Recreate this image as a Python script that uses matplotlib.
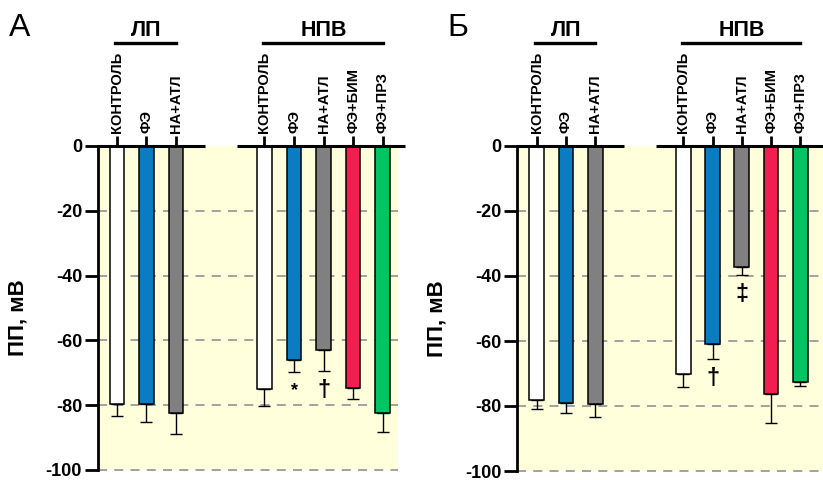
import matplotlib
matplotlib.use("Agg")
from matplotlib import pyplot as plt
from matplotlib.patches import Rectangle

plt.rcParams['font.family'] = ['Liberation Sans', 'DejaVu Sans']

# Data
groups = ["ЛП", "НПВ"]
labels_lp = ["КОНТРОЛЬ", "ФЭ", "НА+АТЛ"]
labels_npv = ["КОНТРОЛЬ", "ФЭ", "НА+АТЛ", "ФЭ+БИМ", "ФЭ+ПРЗ"]
pos_lp = [0, 1, 2]
pos_npv = [5, 6, 7, 8, 9]
colors_lp = ["#FFFFFF", "#0A7DC2", "#808080"]
colors_npv = ["#FFFFFF", "#0A7DC2", "#808080", "#F21E50", "#00C462"]

# panel A
a_lp = [-79.5, -79.5, -82.3]
a_lp_err = [3.7, 5.8, 6.7]
a_npv = [-75.1, -66.2, -62.9, -74.8, -82.5]
a_npv_err = [5.0, 3.4, 6.5, 3.4, 5.9]
a_marks = ["", "*", "†", "", ""]

# panel Б
b_lp = [-78.2, -79.2, -79.4]
b_lp_err = [2.8, 2.8, 3.9]
b_npv = [-70.3, -61.0, -37.1, -76.4, -72.5]
b_npv_err = [4.0, 4.6, 2.6, 8.9, 1.3]
b_marks = ["", "†", "‡", "", ""]

yticks = [0, -20, -40, -60, -80, -100]

YELLOW = "#FFFFDC"


def panel(rect, xlim, yellow_right, lp, lp_err, npv, npv_err, marks, letter, letter_x):
    ax = fig.add_axes(rect)
    ax.set_facecolor("none")
    ax.set_xlim(*xlim)
    ax.set_ylim(-100, 0)

    ax.add_patch(Rectangle((xlim[0], -100), yellow_right - xlim[0], 100,
                           facecolor=YELLOW, edgecolor="none", zorder=0))
    ax.hlines(yticks[1:], xlim[0], yellow_right, colors="#9A9A9A",
              linestyles=(0, (5, 4)), linewidth=1.3, zorder=1, clip_on=False)

    for pos, vals, errs, cols in [(pos_lp, lp, lp_err, colors_lp),
                                  (pos_npv, npv, npv_err, colors_npv)]:
        ax.bar(pos, vals, width=0.5, color=cols, edgecolor="black",
               linewidth=1.1, zorder=3)
        ax.errorbar(pos, vals, yerr=[errs, [0] * len(errs)], fmt="none",
                    ecolor="black", elinewidth=1.0, capsize=4.5, capthick=1.0,
                    zorder=2)

    for x, v, e, m in zip(pos_npv, npv, npv_err, marks):
        if m:
            ax.text(x, v - e - 6, m, ha="center", va="center",
                    fontsize=13 if m == "*" else 17, fontweight="bold", zorder=4)

    # broken top axis line
    ax.hlines(0, xlim[0], 2.98, colors="black", linewidth=2.2, zorder=5, clip_on=False)
    ax.hlines(0, 4.07, xlim[1], colors="black", linewidth=2.2, zorder=5, clip_on=False)

    for s in ["top", "right", "bottom"]:
        ax.spines[s].set_visible(False)
    ax.spines["left"].set_linewidth(2.0)
    ax.spines["left"].set_zorder(5)

    ax.set_yticks(yticks)
    ax.set_yticklabels([str(t) for t in yticks], fontsize=13, fontweight="bold")
    ax.tick_params(axis="y", length=9.5, width=2.0, pad=2)

    ax.xaxis.tick_top()
    ax.set_xticks(pos_lp + pos_npv)
    ax.set_xticklabels(labels_lp + labels_npv, rotation=90, fontsize=10.5,
                       fontweight="bold")
    ax.tick_params(axis="x", length=7, width=2.0, pad=2)

    ax.set_ylabel("ПП, мВ", fontsize=16, fontweight="bold")
    ax.yaxis.set_label_coords(-0.228, 0.47)

    for name, pos in zip(groups, [pos_lp, pos_npv]):
        ax.plot([pos[0] - 0.05, pos[-1]], [1.318, 1.318], color="black",
                linewidth=2.4, transform=ax.get_xaxis_transform(), clip_on=False)
        ax.text((pos[0] + pos[-1]) / 2, 1.338, name, ha="center", va="baseline",
                fontsize=15.5, fontweight="bold", transform=ax.get_xaxis_transform())

    fig.text(letter_x, 1 - 36 / 480, letter, fontsize=23, ha="left", va="baseline")
    return ax


fig = plt.figure(figsize=(8.23, 4.8), dpi=100)

panel([98 / 823, 10 / 480, 307 / 823, 324 / 480], (-0.64, 9.76), 9.53,
      a_lp, a_lp_err, a_npv, a_npv_err, a_marks, "А", 9 / 823)
panel([517.3 / 823, 9 / 480, 305.7 / 823, 325 / 480], (-0.66, 9.77), 9.77,
      b_lp, b_lp_err, b_npv, b_npv_err, b_marks, "Б", 447 / 823)

fig.savefig("out.png", dpi=100)
